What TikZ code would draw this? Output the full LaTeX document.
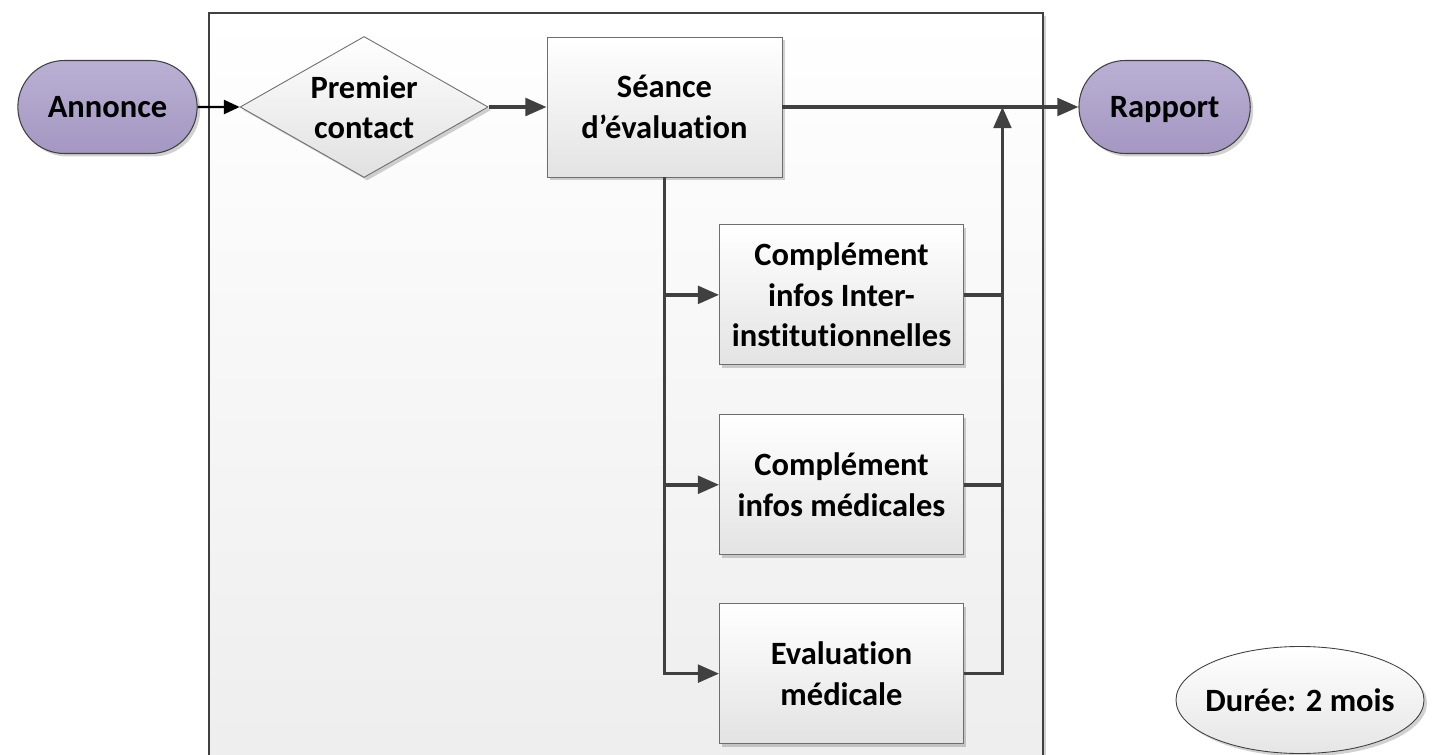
\documentclass[tikz,border=0pt]{standalone}
\usepackage{fontspec}
\setmainfont[Ligatures=NoCommon]{Carlito}
\usepackage{tikz}
\usetikzlibrary{positioning}
\usetikzlibrary{arrows.meta,shapes.geometric,shapes.misc,shadows}

\definecolor{lilas}{RGB}{186,176,211}
\definecolor{lilasfonce}{RGB}{164,151,194}
\definecolor{trait}{RGB}{64,64,64}
\definecolor{bord}{RGB}{110,110,110}

\tikzset{
  ombre/.style={drop shadow={shadow xshift=0.06cm, shadow yshift=-0.06cm, fill=black, opacity=0.18}},
  etape/.style={rectangle, draw=bord, line width=0.5pt, top color=white, bottom color=black!11,
    minimum width=4.88cm, minimum height=2.8cm, align=center, ombre},
  terminal/.style={rounded rectangle, draw=trait, line width=0.6pt, top color=lilas, bottom color=lilasfonce,
    minimum width=3.82cm, minimum height=1.86cm, text depth=0pt, ombre},
  decision/.style={diamond, draw=bord, line width=0.5pt, top color=white, bottom color=black!12,
    aspect=1.76, inner sep=0pt, minimum width=4.96cm, minimum height=2.82cm, align=center, ombre},
  note/.style={ellipse, draw=trait, line width=0.5pt, top color=white, bottom color=black!10,
    inner xsep=-0.2cm, inner ysep=0pt, minimum width=4.96cm, minimum height=2.14cm, ombre}
}

\begin{document}
\begin{tikzpicture}[->,>={Triangle[length=12pt,width=10pt]},line width=2pt,draw=trait,
    font=\fontsize{18.5}{23}\selectfont\bfseries]
  \useasboundingbox (0,0) rectangle (28.68,-15.1);
  % fond
  \shade[-, top color=white, bottom color=black!7, draw=trait, line width=0.6pt, ombre]
    (4.18,-0.26) rectangle (20.86,-15.6);

  \node (annonce) [terminal] at (2.15,-2.14) {Annonce};
  \node (contact) [decision, right=0.84cm of annonce] {Premier\\contact};
  \node (seance) [etape, minimum width=4.7cm, right=1.16cm of contact] {Séance\\d’évaluation};
  \node (rapport) [terminal, minimum width=3.66cm, right=5.92cm of seance] {Rapport};
  \node (infos) [etape, below=0.94cm of seance, xshift=3.54cm] {Complément\\infos Inter-\\institutionnelles};
  \node (medic) [etape, below=0.98cm of infos] {Complément\\infos médicales};
  \node (evalmed) [etape, below=0.96cm of medic] {Evaluation\\médicale};
  \node (duree) [note] at (26,-14) {Durée: 2 mois};
  \coordinate [right=4.4cm of seance.east] (join);

  \draw[black, line width=1.2pt, >={Triangle[length=9pt,width=8pt]}] (annonce) -- (contact);
  \draw (contact) -- (seance);
  \draw (seance) -- (rapport);
  \draw (seance.south) |- (evalmed);
  \draw (seance.south |- infos) -- (infos);
  \draw (seance.south |- medic) -- (medic);
  \draw[-] (infos) -- (infos -| join);
  \draw[-] (medic) -- (medic -| join);
  \draw (evalmed) -| (join);
\end{tikzpicture}
\end{document}
